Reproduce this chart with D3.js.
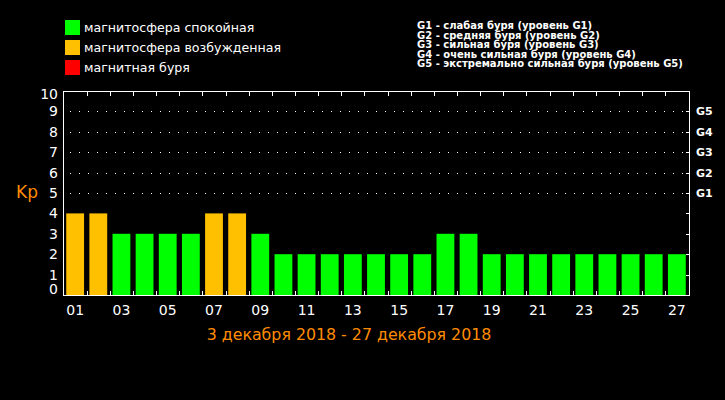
<!DOCTYPE html>
<html>
<head>
<meta charset="utf-8">
<script src="https://cdn.jsdelivr.net/npm/d3@7"></script>
<style>
  body { margin: 0; background: #000; }
  svg { display: block; }
  text { font-family: "DejaVu Sans", sans-serif; }
</style>
</head>
<body>
<div id="chart"></div>
<script>
// data
var days = ["01","02","03","04","05","06","07","08","09","10","11","12","13","14",
            "15","16","17","18","19","20","21","22","23","24","25","26","27"];
var kp = [4,4,3,3,3,3,4,4,3,2,2,2,2,2,2,2,3,3,2,2,2,2,2,2,2,2,2];
var yTicks = [0,1,2,3,4,5,6,7,8,9,10];
var gLevels = [5,6,7,8,9];
var gNames = ["G1","G2","G3","G4","G5"];
var legendLeft = ["магнитосфера спокойная", "магнитосфера возбужденная", "магнитная буря"];
var legendColors = ["#00ff00", "#ffc000", "#ff0000"];
var legendRight = [
  "G1 - слабая буря (уровень G1)",
  "G2 - средняя буря (уровень G2)",
  "G3 - сильная буря (уровень G3)",
  "G4 - очень сильная буря (уровень G4)",
  "G5 - экстремально сильная буря (уровень G5)"
];
var title = "3 декабря 2018 - 27 декабря 2018";

var width = 725, height = 400;
var pLeft = 63, pRight = 689, pTop = 91, pBottom = 295;

var svg = d3.select("#chart").append("svg")
    .attr("width", width)
    .attr("height", height)
    .style("background", "#000");

var x = d3.scaleBand()
    .domain(days)
    .range([pLeft, pRight])
    .paddingInner(0.23)
    .paddingOuter(0.14);

var y = d3.scaleLinear()
    .domain([0, 10])
    .range([pBottom, pTop]);

var color = d3.scaleThreshold()
    .domain([4, 5])
    .range(legendColors);

// dotted grid at storm levels
svg.selectAll(".grid")
    .data(gLevels)
    .enter().append("line")
      .attr("x1", pLeft + 7).attr("x2", pRight)
      .attr("y1", function(d) { return Math.round(y(d)) + 0.5; })
      .attr("y2", function(d) { return Math.round(y(d)) + 0.5; })
      .attr("stroke", "#fff")
      .attr("stroke-dasharray", "1,8");

// bars
svg.selectAll(".bar")
    .data(kp)
    .enter().append("rect")
      .attr("x", function(d, i) { return x(days[i]); })
      .attr("y", function(d) { return y(d); })
      .attr("width", x.bandwidth())
      .attr("height", function(d) { return y(0) - y(d); })
      .attr("fill", function(d) { return color(d); });

// frame
svg.append("rect")
    .attr("x", pLeft + 0.5).attr("y", pTop + 0.5)
    .attr("width", pRight - pLeft).attr("height", pBottom - pTop)
    .attr("fill", "none")
    .attr("stroke", "#fff");

// day boundary ticks, top and bottom
var step = x.step();
var bounds = days.slice(1).map(function(d) { return x(d) - step * x.paddingInner() / 2; });
svg.selectAll(".tb")
    .data(bounds)
    .enter().append("line")
      .attr("x1", function(d) { return Math.round(d) + 0.5; })
      .attr("x2", function(d) { return Math.round(d) + 0.5; })
      .attr("y1", pBottom).attr("y2", pBottom - 4)
      .attr("stroke", "#fff");
svg.selectAll(".tt")
    .data(bounds)
    .enter().append("line")
      .attr("x1", function(d) { return Math.round(d) + 0.5; })
      .attr("x2", function(d) { return Math.round(d) + 0.5; })
      .attr("y1", pTop).attr("y2", pTop + 5)
      .attr("stroke", "#fff");

// right ticks
svg.selectAll(".tr")
    .data(yTicks.slice(1, -1))
    .enter().append("line")
      .attr("x1", pRight - 3).attr("x2", pRight)
      .attr("y1", function(d) { return Math.round(y(d)) + 0.5; })
      .attr("y2", function(d) { return Math.round(y(d)) + 0.5; })
      .attr("stroke", "#fff");

// y labels
svg.selectAll(".yl")
    .data(yTicks)
    .enter().append("text")
      .attr("x", 58)
      .attr("y", function(d) { return y(d); })
      .attr("dy", function(d) { return d == 0 ? "-0.05em" : d == 10 ? "0.55em" : "0.36em"; })
      .attr("text-anchor", "end")
      .attr("fill", "#fff")
      .style("font-size", "14px")
      .text(function(d) { return d; });

// x labels
svg.selectAll(".xl")
    .data(days.filter(function(d, i) { return i % 2 == 0; }))
    .enter().append("text")
      .attr("x", function(d) { return x(d) + x.bandwidth() / 2; })
      .attr("y", 315)
      .attr("text-anchor", "middle")
      .attr("fill", "#fff")
      .style("font-size", "14px")
      .text(function(d) { return d; });

// G labels
svg.selectAll(".gl")
    .data(gLevels)
    .enter().append("text")
      .attr("x", 696)
      .attr("y", function(d) { return y(d); })
      .attr("dy", "0.36em")
      .attr("fill", "#fff")
      .style("font-size", "11px")
      .style("font-weight", "bold")
      .text(function(d, i) { return gNames[i]; });

// Kp label
svg.append("text")
    .attr("x", 16).attr("y", 198)
    .attr("fill", "#ff8c00")
    .style("font-size", "17px")
    .text("Kp");

// title
svg.append("text")
    .attr("x", 349).attr("y", 340)
    .attr("text-anchor", "middle")
    .attr("fill", "#ff8c00")
    .style("font-size", "15.8px")
    .text(title);

// left legend
var lg = svg.selectAll(".lg")
    .data(legendLeft)
    .enter().append("g")
      .attr("transform", function(d, i) { return "translate(65," + (20 + i * 20) + ")"; });
lg.append("rect")
    .attr("width", 15).attr("height", 15)
    .attr("fill", function(d, i) { return legendColors[i]; });
lg.append("text")
    .attr("x", 19).attr("y", 12)
    .attr("fill", "#fff")
    .style("font-size", "12.6px")
    .text(function(d) { return d; });

// right legend
svg.selectAll(".rl")
    .data(legendRight)
    .enter().append("text")
      .attr("x", 417)
      .attr("y", function(d, i) { return 29 + i * 9.5; })
      .attr("fill", "#fff")
      .style("font-size", "10px")
      .style("font-weight", "bold")
      .text(function(d) { return d; });
</script>
</body>
</html>
